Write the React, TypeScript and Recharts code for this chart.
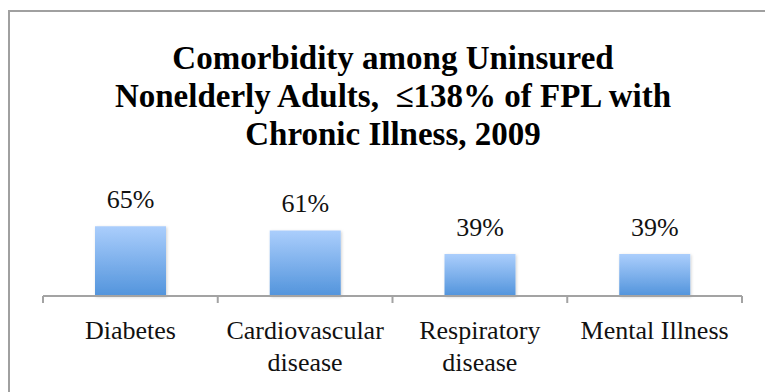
import { Bar, BarChart, LabelList, XAxis, YAxis } from 'recharts';

// tick labels, already broken into the lines the reference shows
const categoryLines = [['Diabetes'], ['Cardiovascular', 'disease'], ['Respiratory', 'disease'], ['Mental Illness']];
const categories = categoryLines.map((lines) => lines.join(' '));
const shares = [65, 61, 39, 39];
const titleLines = ['Comorbidity among Uninsured', 'Nonelderly Adults,  \u2264138% of FPL with', 'Chronic Illness, 2009'];

const FONT = '"Liberation Serif", "Times New Roman", serif';
const AXIS_GRAY = '#a3a3a3';

const chartData = categories.map((name, i) => ({ name, value: shares[i] }));

type TickProps = {
  x?: number;
  y?: number;
  index?: number;
  payload?: { value: string; offset?: number };
};

// category ticks sit on band edges, labels are centred under the band
function CategoryTick({ x = 0, y = 0, index = 0, payload }: TickProps) {
  const half = payload?.offset ?? 87;
  const isLast = index === categories.length - 1;
  const lines = categoryLines[index] ?? [payload?.value ?? ''];
  return (
    <g>
      <line x1={x - half} x2={x - half} y1={y} y2={y + 7} stroke={AXIS_GRAY} strokeWidth={2} />
      {isLast && <line x1={x + half} x2={x + half} y1={y} y2={y + 7} stroke={AXIS_GRAY} strokeWidth={2} />}
      <text x={x} y={y + 43} textAnchor="middle" fontSize={26} fontFamily={FONT} fill="#111">
        {lines.map((line, i) => (
          <tspan key={line} x={x} dy={i === 0 ? 0 : 32}>
            {line}
          </tspan>
        ))}
      </text>
    </g>
  );
}

export default function App() {
  return (
    <div style={{ position: 'absolute', left: 0, top: 0, width: 765, height: 392, overflow: 'hidden', background: '#fff' }}>
      <div
        style={{
          position: 'absolute',
          left: 8,
          top: 10,
          width: 820,
          height: 440,
          border: '2px solid #a0a0a0',
        }}
      />
      <div
        style={{
          position: 'absolute',
          left: 93,
          top: 39,
          width: 600,
          textAlign: 'center',
          fontFamily: FONT,
          fontWeight: 'bold',
          fontSize: 33,
          lineHeight: '38px',
          color: '#000',
          whiteSpace: 'pre',
        }}
      >
        {titleLines.map((line) => (
          <div key={line}>{line}</div>
        ))}
      </div>
      <div style={{ position: 'absolute', left: 0, top: 0 }}>
        <BarChart width={765} height={392} data={chartData} margin={{ top: 210, right: 23, bottom: 26, left: 43 }}>
          <defs>
            <linearGradient id="barFill" x1="0" y1="0" x2="0" y2="1">
              <stop offset="0%" stopColor="#abcefc" />
              <stop offset="100%" stopColor="#5294dc" />
            </linearGradient>
            <filter id="barShadow" x="-20%" y="-20%" width="140%" height="140%">
              <feDropShadow dx="1" dy="1" stdDeviation="1.5" floodColor="#000" floodOpacity="0.18" />
            </filter>
          </defs>
          <YAxis hide domain={[0, 80]} />
          <XAxis
            dataKey="name"
            height={70}
            interval={0}
            tickLine={false}
            tickSize={0}
            tickMargin={0}
            axisLine={{ stroke: AXIS_GRAY, strokeWidth: 2 }}
            tick={<CategoryTick />}
          />
          <Bar dataKey="value" barSize={71} fill="url(#barFill)" filter="url(#barShadow)" isAnimationActive={false}>
            <LabelList
              dataKey="value"
              position="top"
              offset={18}
              formatter={(v: number) => `${v}%`}
              style={{ fontSize: 26, fontFamily: FONT, fill: '#111' }}
            />
          </Bar>
        </BarChart>
      </div>
    </div>
  );
}
